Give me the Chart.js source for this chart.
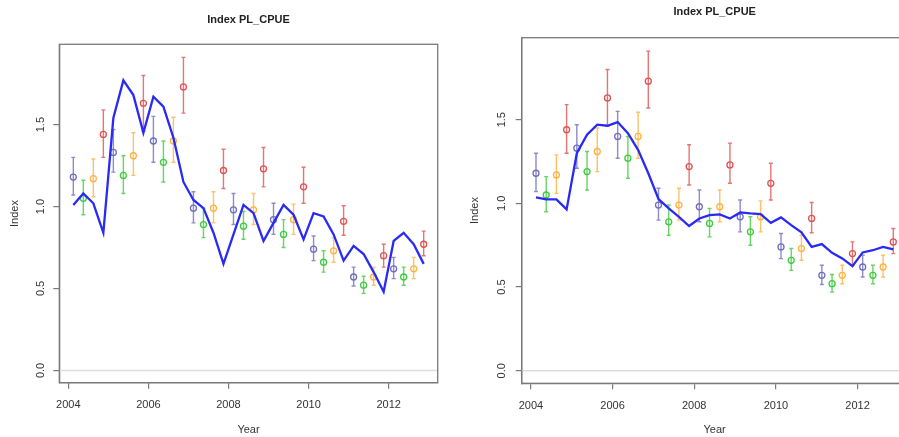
<!DOCTYPE html>
<html>
<head>
<meta charset="utf-8">
<script src="https://cdn.jsdelivr.net/npm/chart.js@4.4.1/dist/chart.umd.min.js"></script>
<style>
  html, body { margin: 0; padding: 0; background: #fff; overflow: hidden; width: 899px; height: 437px; }
  .panel { position: absolute; top: 0; height: 437px; }
  #p1 { left: 0; width: 450px; }
  #p2 { left: 450px; width: 470px; }
</style>
</head>
<body>
<div class="panel" id="p1"><canvas id="c1"></canvas></div>
<div class="panel" id="p2"><canvas id="c2"></canvas></div>
<script>
// DADOS
const years = [2004, 2005, 2006, 2007, 2008, 2009, 2010, 2011, 2012];
const quarterOffsets = [0.125, 0.375, 0.625, 0.875];
const quarterColors = ['#6f6fbb', '#3fcb3f', '#ffb23f', '#e05252'];

const observed = [1.18, 1.05, 1.17, 1.44, 1.33, 1.19, 1.31, 1.63, 1.40, 1.27, 1.40, 1.73,
                  0.99, 0.89, 0.99, 1.22, 0.98, 0.88, 0.98, 1.23, 0.92, 0.83, 0.92, 1.12,
                  0.74, 0.66, 0.73, 0.91, 0.57, 0.52, 0.57, 0.70, 0.62, 0.57, 0.62, 0.77];
const lowerCI  = [1.07, 0.95, 1.06, 1.30, 1.21, 1.08, 1.19, 1.46, 1.27, 1.15, 1.27, 1.57,
                  0.90, 0.81, 0.90, 1.11, 0.89, 0.80, 0.89, 1.12, 0.83, 0.75, 0.83, 1.02,
                  0.67, 0.60, 0.66, 0.825, 0.515, 0.47, 0.52, 0.63, 0.56, 0.52, 0.56, 0.70];
const upperCI  = [1.30, 1.16, 1.29, 1.59, 1.47, 1.31, 1.45, 1.80, 1.55, 1.40, 1.545, 1.91,
                  1.09, 0.99, 1.09, 1.35, 1.08, 0.97, 1.08, 1.36, 1.02, 0.92, 1.015, 1.24,
                  0.82, 0.73, 0.81, 1.005, 0.63, 0.575, 0.63, 0.77, 0.69, 0.63, 0.69, 0.85];

const fitLeft  = [1.01, 1.08, 1.02, 0.84, 1.54, 1.77, 1.68, 1.45, 1.67, 1.61, 1.42, 1.15,
                  1.04, 0.99, 0.84, 0.65, 0.83, 1.01, 0.96, 0.79, 0.90, 1.01, 0.95, 0.80,
                  0.96, 0.94, 0.83, 0.67, 0.76, 0.71, 0.60, 0.48, 0.79, 0.84, 0.77, 0.65];
const fitRight = [1.036, 1.024, 1.024, 0.964, 1.30, 1.41, 1.47, 1.464, 1.486, 1.42, 1.32, 1.18,
                  1.026, 0.97, 0.92, 0.865, 0.91, 0.93, 0.934, 0.91, 0.946, 0.94, 0.936, 0.884,
                  0.916, 0.87, 0.827, 0.74, 0.757, 0.705, 0.671, 0.625, 0.707, 0.72, 0.74, 0.725];

const xTicks = [2004, 2006, 2008, 2010, 2012];
const yTicks = [0, 0.5, 1, 1.5];

// posição de cada trimestre no eixo do tempo
const xTimes = [];
const pointColors = [];
years.forEach(y => quarterOffsets.forEach((q, i) => {
    xTimes.push(y + q);
    pointColors.push(quarterColors[i]);
}));

const FONT = { family: '"Liberation Sans", Arial, sans-serif', size: 11 };
const AXIS_COLOR = '#7a7a7a';
const TEXT_COLOR = '#333';

// linha do zero, barras de erro e caixa do gráfico (estilo R)
const rStylePlugin = {
    id: 'rStyle',
    beforeDatasetsDraw(chart) {
        const { ctx, chartArea: a, scales: { x, y } } = chart;
        ctx.save();
        const y0 = y.getPixelForValue(0);
        ctx.strokeStyle = '#dedede';
        ctx.lineWidth = 1.5;
        ctx.beginPath();
        ctx.moveTo(a.left, y0);
        ctx.lineTo(a.right, y0);
        ctx.stroke();

        ctx.lineWidth = 1.4;
        ctx.globalAlpha = 0.8;
        xTimes.forEach((t, i) => {
            const px = x.getPixelForValue(t);
            const lo = y.getPixelForValue(lowerCI[i]);
            const hi = y.getPixelForValue(upperCI[i]);
            ctx.strokeStyle = pointColors[i];
            ctx.beginPath();
            ctx.moveTo(px, lo); ctx.lineTo(px, hi);
            ctx.moveTo(px - 2, lo); ctx.lineTo(px + 2, lo);
            ctx.moveTo(px - 2, hi); ctx.lineTo(px + 2, hi);
            ctx.stroke();
        });
        ctx.restore();
    },
    afterDraw(chart) {
        const { ctx, chartArea: a } = chart;
        ctx.save();
        ctx.strokeStyle = AXIS_COLOR;
        ctx.lineWidth = 1.3;
        ctx.strokeRect(a.left, a.top, a.right - a.left, a.bottom - a.top);
        ctx.restore();
    }
};

function makePanel(canvasId, fit, lay) {
    return new Chart(document.getElementById(canvasId), {
        type: 'line',
        data: {
            datasets: [{
                label: 'Fit',
                data: xTimes.map((t, i) => ({ x: t, y: fit[i] })),
                borderColor: '#2a2af5',
                borderWidth: 2.3,
                pointRadius: 0,
                tension: 0,
                order: 0
            }, {
                label: 'Observed',
                data: xTimes.map((t, i) => ({ x: t, y: observed[i] })),
                showLine: false,
                pointStyle: 'circle',
                pointRadius: 3,
                pointBorderWidth: 1.3,
                pointBorderColor: pointColors,
                pointBackgroundColor: 'rgba(255,255,255,0)',
                order: 1
            }]
        },
        options: {
            responsive: true,
            maintainAspectRatio: false,
            animation: false,
            devicePixelRatio: 1,
            layout: { padding: { left: 0, right: lay.padRight, top: 0, bottom: 0 } },
            plugins: {
                legend: { display: false },
                tooltip: { enabled: false },
                title: {
                    display: true,
                    text: 'Index PL_CPUE',
                    fullSize: false,
                    color: '#222',
                    font: { ...FONT, weight: 'bold' },
                    padding: { top: lay.titleTop, bottom: lay.titleBottom }
                }
            },
            scales: {
                x: {
                    type: 'linear',
                    min: 2003.775,
                    max: 2013.225,
                    border: { display: true, color: AXIS_COLOR, width: 1.3 },
                    grid: { display: true, drawOnChartArea: false, drawTicks: true, tickLength: 6, color: AXIS_COLOR, lineWidth: 1.2 },
                    ticks: { font: FONT, color: TEXT_COLOR, padding: lay.xTickPad, maxRotation: 0, autoSkip: false,
                             callback: v => String(v) },
                    title: { display: true, text: 'Year', font: FONT, color: TEXT_COLOR, padding: { top: 0, bottom: lay.yearPad } },
                    afterBuildTicks: s => { s.ticks = xTicks.map(v => ({ value: v })); },
                    afterFit: s => { s.height = lay.xHeight; }
                },
                y: {
                    min: -0.075,
                    max: 1.99,
                    border: { display: true, color: AXIS_COLOR, width: 1.3 },
                    grid: { display: true, drawOnChartArea: false, drawTicks: true, tickLength: 6, color: AXIS_COLOR, lineWidth: 1.2 },
                    ticks: { font: FONT, color: TEXT_COLOR, padding: lay.yTickPad, minRotation: 90, maxRotation: 90,
                             crossAlign: 'center', callback: v => v.toFixed(1) },
                    title: { display: true, text: 'Index', font: FONT, color: TEXT_COLOR, padding: { top: lay.indexPad, bottom: 0 } },
                    afterBuildTicks: s => { s.ticks = yTicks.map(v => ({ value: v })); },
                    afterFit: s => { s.width = lay.yWidth; }
                }
            }
        },
        plugins: [rStylePlugin]
    });
}

makePanel('c1', fitLeft, {
    padRight: 12.3, titleTop: 13, titleBottom: 18.1,
    xHeight: 54.3, yWidth: 59.3, xTickPad: 9.4, yTickPad: 5, yearPad: 0, indexPad: 8.4
});
makePanel('c2', fitRight, {
    padRight: 12.4, titleTop: 5, titleBottom: 19.5,
    xHeight: 53.7, yWidth: 71.7, xTickPad: 9.8, yTickPad: 5.7, yearPad: 0, indexPad: 18.4
});
</script>
</body>
</html>
